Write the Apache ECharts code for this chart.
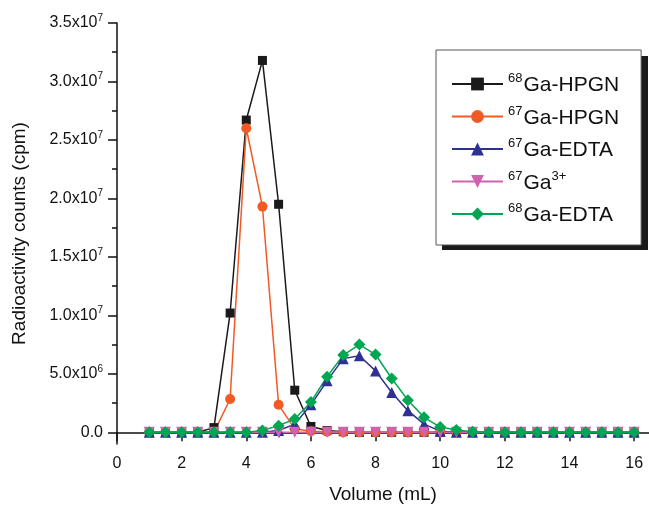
<!DOCTYPE html>
<html>
<head>
<meta charset="utf-8">
<script src="https://cdn.jsdelivr.net/npm/echarts@6/dist/echarts.min.js"></script>
<style>
  html, body { margin: 0; padding: 0; background: #fff; }
  #chart { width: 649px; height: 509px; }
</style>
</head>
<body>
<div id="chart"></div>
<script>
var volume = [1, 1.5, 2, 2.5, 3, 3.5, 4, 4.5, 5, 5.5, 6, 6.5, 7, 7.5, 8, 8.5,
  9, 9.5, 10, 10.5, 11, 11.5, 12, 12.5, 13, 13.5, 14, 14.5, 15, 15.5, 16];

var ga68Hpgn = [0, 0, 0, 0, 4e5, 1.02e7, 2.67e7, 3.18e7, 1.95e7, 3.6e6, 5e5, 1.5e5, 5e4, 0, 0, 0,
  0, 0, 0, 0, 0, 0, 0, 0, 0, 0, 0, 0, 0, 0, 0];
var ga67Hpgn = [0, 0, 0, 0, 0, 2.85e6, 2.6e7, 1.93e7, 2.35e6, 3e5, 1e5, 5e4, 0, 0, 0, 0,
  0, 0, 0, 0, 0, 0, 0, 0, 0, 0, 0, 0, 0, 0, 0];
var ga67Edta = [0, 0, 0, 0, 0, 0, 0, 0, 1.5e5, 7e5, 2.35e6, 4.4e6, 6.3e6, 6.55e6, 5.25e6, 3.4e6,
  1.85e6, 7e5, 1e5, 0, 0, 0, 0, 0, 0, 0, 0, 0, 0, 0, 0];
var ga67Free = [0, 0, 0, 0, 0, 0, 0, 0, 0, 0, 0, 0, 0, 0, 0, 0,
  0, 0, 0, 0, 0, 0, 0, 0, 0, 0, 0, 0, 0, 0, 0];
var ga68Edta = [0, 0, 0, 0, 0, 0, 0, 1.5e5, 5.7e5, 1.14e6, 2.6e6, 4.75e6, 6.6e6, 7.5e6, 6.65e6, 4.6e6,
  2.75e6, 1.28e6, 4.5e5, 2e5, 5e4, 0, 0, 0, 0, 0, 0, 0, 0, 0, 0];

var xMajorTicks = [0, 2, 4, 6, 8, 10, 12, 14, 16];
var xMinorTicks = [1, 3, 5, 7, 9, 11, 13, 15];
var yMajorTicks = [0, 5e6, 1e7, 1.5e7, 2e7, 2.5e7, 3e7, 3.5e7];
var yMinorTicks = [2.5e6, 7.5e6, 1.25e7, 1.75e7, 2.25e7, 2.75e7, 3.25e7];

var seriesNames = ['68Ga-HPGN', '67Ga-HPGN', '67Ga-EDTA', '67Ga3+', '68Ga-EDTA'];
var legendLabels = {
  '68Ga-HPGN': '{s|68}{b|Ga-HPGN}',
  '67Ga-HPGN': '{s|67}{b|Ga-HPGN}',
  '67Ga-EDTA': '{s|67}{b|Ga-EDTA}',
  '67Ga3+': '{s|67}{b|Ga}{s|3+}',
  '68Ga-EDTA': '{s|68}{b|Ga-EDTA}'
};

var colors = ['#1a1a1a', '#f15a24', '#2e3192', '#d062b0', '#00a651'];
var symbols = ['rect', 'circle', 'triangle', 'path://M0,0 L10,0 L5,9 Z', 'diamond'];
var symbolSizes = [9, 10, 11, 11, 12];
var fontName = 'Liberation Sans';

function pairs(values) {
  var out = [];
  for (var i = 0; i < volume.length; i++) {
    out.push([volume[i], values[i]]);
  }
  return out;
}

function yLabel(v) {
  if (v === 0) return '{b|0.0}';
  var exp = Math.floor(Math.log10(v) + 1e-9);
  var mant = v / Math.pow(10, exp);
  return '{b|' + mant.toFixed(1) + 'x10}{s|' + exp + '}';
}

var chart = echarts.init(document.getElementById('chart'));
var allValues = [ga68Hpgn, ga67Hpgn, ga67Edta, ga67Free, ga68Edta];

var series = [];
for (var k = 0; k < seriesNames.length; k++) {
  series.push({
    name: seriesNames[k],
    type: 'line',
    data: pairs(allValues[k]),
    symbol: symbols[k],
    symbolSize: symbolSizes[k],
    showAllSymbol: true,
    animation: false,
    lineStyle: { width: 1.5, color: colors[k] },
    itemStyle: { color: colors[k] }
  });
}

var xMin = 0, xMax = 16.46, yMin = -1e6, yMax = 3.5e7;

var option = {
  color: colors,
  animation: false,
  textStyle: { fontFamily: fontName },
  grid: { left: 117, right: 0, top: 23, bottom: 64 },
  // drop shadow behind the legend box
  graphic: [{
    type: 'rect',
    left: 442,
    top: 56,
    z: 1,
    shape: { width: 206, height: 194 },
    style: { fill: '#1a1a1a' }
  }],
  legend: {
    orient: 'vertical',
    left: 436,
    top: 50,
    padding: [22, 22, 19, 15],
    itemGap: 8.5,
    itemWidth: 51,
    itemHeight: 16,
    backgroundColor: '#fff',
    borderColor: '#555',
    borderWidth: 1,
    borderRadius: 0,
    z: 5,
    data: seriesNames,
    formatter: function (name) { return legendLabels[name]; },
    textStyle: {
      color: '#111',
      fontFamily: fontName,
      rich: {
        b: { fontSize: 21, fontFamily: fontName, color: '#111', lineHeight: 24, verticalAlign: 'bottom' },
        s: { fontSize: 13, fontFamily: fontName, color: '#111', lineHeight: 24, verticalAlign: 'top', padding: [0, 1, 0, 0] }
      }
    }
  },
  xAxis: [
    {
      type: 'value',
      min: xMin,
      max: xMax,
      position: 'bottom',
      name: 'Volume (mL)',
      nameLocation: 'middle',
      nameGap: 41,
      nameTextStyle: { fontSize: 19, color: '#111', fontFamily: fontName },
      axisLine: { show: true, lineStyle: { color: '#111', width: 1.5 } },
      axisTick: { show: true, length: 9, customValues: xMajorTicks, lineStyle: { color: '#111', width: 1.5 } },
      axisLabel: { customValues: xMajorTicks, margin: 12, fontSize: 16, color: '#111', fontFamily: fontName },
      splitLine: { show: false }
    },
    {
      type: 'value',
      min: xMin,
      max: xMax,
      position: 'bottom',
      axisLine: { show: false },
      axisTick: { show: true, length: 5, customValues: xMinorTicks, lineStyle: { color: '#111', width: 1.5 } },
      axisLabel: { show: false },
      splitLine: { show: false }
    }
  ],
  yAxis: [
    {
      type: 'value',
      min: yMin,
      max: yMax,
      position: 'left',
      name: 'Radioactivity counts (cpm)',
      nameLocation: 'middle',
      nameGap: 88,
      nameTextStyle: { fontSize: 19, color: '#111', fontFamily: fontName },
      axisLine: { show: true, lineStyle: { color: '#111', width: 1.5 } },
      axisTick: { show: true, length: 9, customValues: yMajorTicks, lineStyle: { color: '#111', width: 1.5 } },
      axisLabel: {
        customValues: yMajorTicks,
        margin: 14,
        formatter: yLabel,
        rich: {
          b: { fontSize: 16, fontFamily: fontName, color: '#111', lineHeight: 20, verticalAlign: 'middle' },
          s: { fontSize: 10, fontFamily: fontName, color: '#111', lineHeight: 20, verticalAlign: 'top' }
        }
      },
      splitLine: { show: false }
    },
    {
      type: 'value',
      min: yMin,
      max: yMax,
      position: 'left',
      axisLine: { show: false },
      axisTick: { show: true, length: 5, customValues: yMinorTicks, lineStyle: { color: '#111', width: 1.5 } },
      axisLabel: { show: false },
      splitLine: { show: false }
    }
  ],
  series: series
};

chart.setOption(option);
</script>
</body>
</html>
